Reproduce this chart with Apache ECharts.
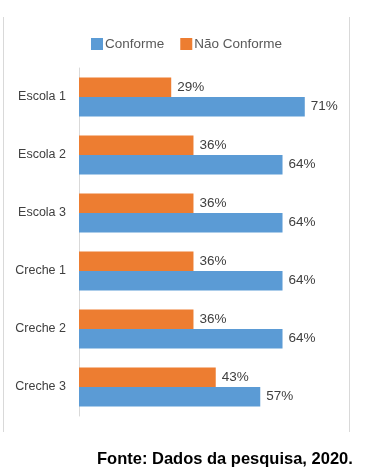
<!DOCTYPE html>
<html><head><meta charset="utf-8">
<script src="https://cdn.jsdelivr.net/npm/echarts@6/dist/echarts.min.js"></script>
<style>html,body{margin:0;padding:0;background:#fff}#c{width:385px;height:475px}</style>
</head><body><div id="c"></div>
<script>
var categories = ['Escola 1','Escola 2','Escola 3','Creche 1','Creche 2','Creche 3'];
var conforme = [71,64,64,64,64,57];
var naoConforme = [29,36,36,36,36,43];
var seriesNames = ['Conforme','Não Conforme'];
var sourceText = 'Fonte: Dados da pesquisa, 2020.';

var chart = echarts.init(document.getElementById('c'));
var font = 'Liberation Sans';
var lbl = {show:true, position:'right', distance:6, formatter:'{c}%', color:'#404040', fontSize:13.5, fontFamily:font};
chart.setOption({
  animation:false,
  legend:{top:32,left:86,itemWidth:12,itemHeight:12,itemGap:16,icon:'rect',
    textStyle:{color:'#595959',fontSize:13.5,fontFamily:font,padding:[0,0,0,-3]},
    data:seriesNames},
  grid:{left:79,top:68,width:254.4,height:348},
  xAxis:{type:'value',min:0,max:80,show:false},
  yAxis:{type:'category',data:categories,inverse:true,
    axisLine:{lineStyle:{color:'#d9d9d9'}},axisTick:{show:false},
    axisLabel:{color:'#404040',fontSize:12.5,fontFamily:font,margin:13}},
  series:[
    {name:seriesNames[1],type:'bar',data:naoConforme,barWidth:19.5,barGap:'0%',
      itemStyle:{color:'#ED7D31'},label:lbl},
    {name:seriesNames[0],type:'bar',data:conforme,barWidth:19.5,barGap:'0%',
      itemStyle:{color:'#5B9BD5'},label:lbl}
  ],
  graphic:[
    {type:'line',shape:{x1:3.5,y1:17,x2:3.5,y2:432},style:{stroke:'#d9d9d9',lineWidth:1}},
    {type:'line',shape:{x1:349.5,y1:17,x2:349.5,y2:432},style:{stroke:'#d9d9d9',lineWidth:1}},
    {type:'text',left:97,top:451,style:{text:sourceText,font:'bold 16.5px "Liberation Sans"',fill:'#000'}}
  ]
});
</script></body></html>
